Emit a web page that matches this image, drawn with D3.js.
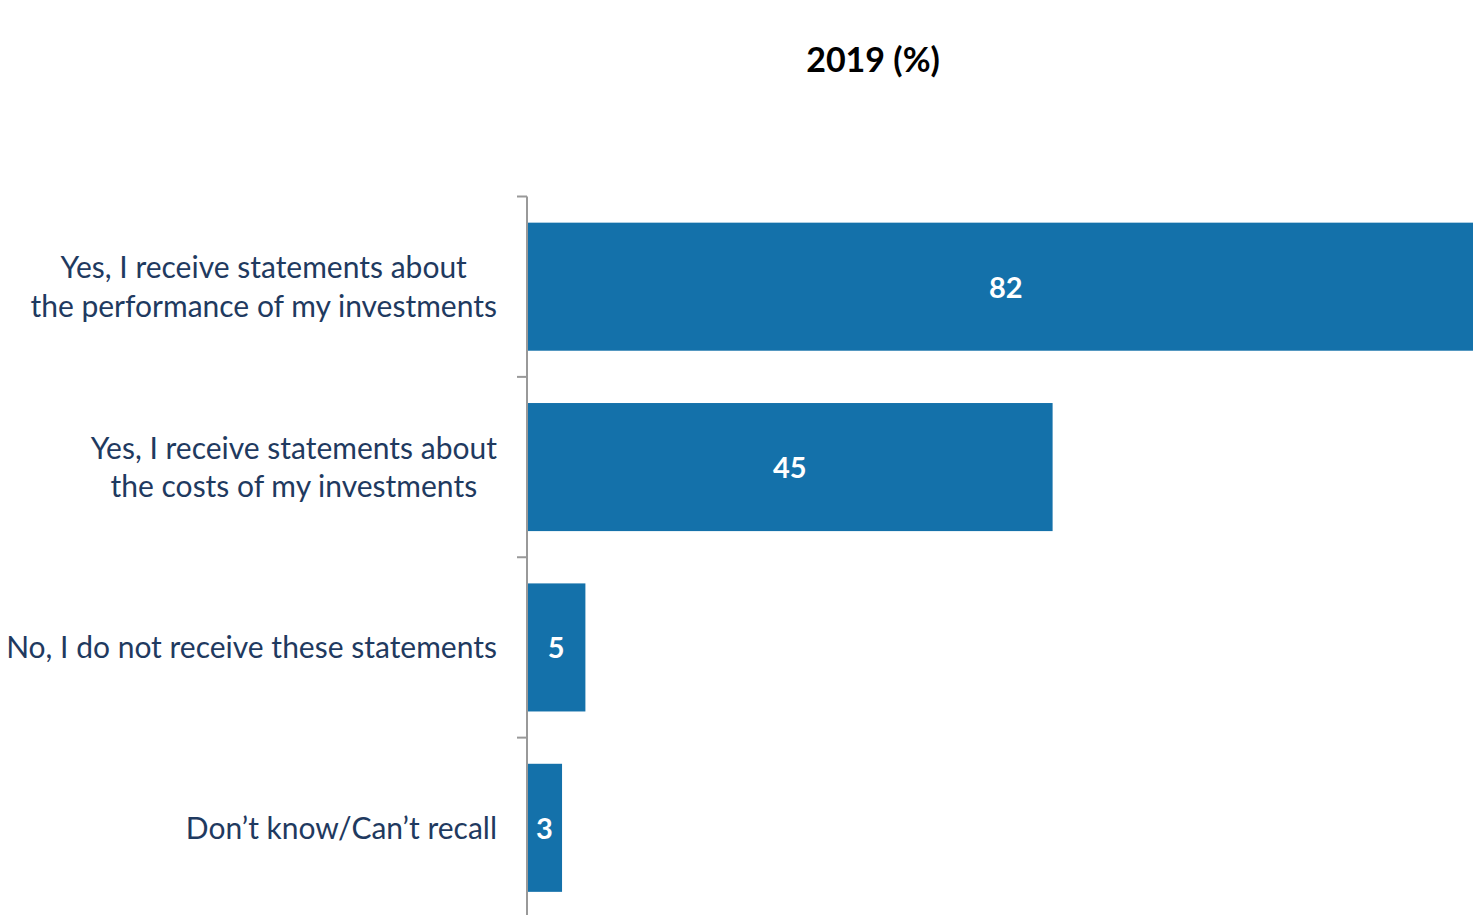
<!DOCTYPE html>
<html>
<head>
<meta charset="utf-8">
<script src="https://cdn.jsdelivr.net/npm/d3@7"></script>
<style>
  body { margin: 0; background: #fff; overflow: hidden; }
  svg { display: block; }
</style>
</head>
<body>
<div id="chart"></div>
<script>
// data
var categories = [
    ["Yes, I receive statements about", "the performance of my investments"],
    ["Yes, I receive statements about", "the costs of my investments"],
    ["No, I do not receive these statements"],
    ["Don\u2019t know/Can\u2019t recall"]
]
var values = [82, 45, 5, 3]
var title = "2019 (%)"

const w = 1473, h = 915
var labelFont = "Lato, 'Open Sans', sans-serif"

var svg = d3.select("#chart")
    .append("svg")
    .attr("width", w)
    .attr("height", h)

var x = d3.scaleLinear()
    .domain([0, 100])
    .range([527, 527 + 1168])

var y = d3.scaleBand()
    .domain(d3.range(categories.length))
    .range([196.5, 918])
    .paddingInner(0.29)
    .paddingOuter(0.145)

// title
svg.append("text")
    .attr("x", 873)
    .attr("y", 72)
    .attr("text-anchor", "middle")
    .attr("font-family", labelFont)
    .attr("font-weight", "bold")
    .attr("font-size", 34)
    .attr("fill", "#000")
    .text(title)

// bars
svg.selectAll("rect.bar")
    .data(values)
    .enter()
    .append("rect")
    .attr("class", "bar")
    .attr("x", x(0))
    .attr("y", (d, i) => y(i))
    .attr("width", d => x(d) - x(0))
    .attr("height", y.bandwidth())
    .attr("fill", "#1471aa")

// value labels, centred on the (unclipped) bar
svg.selectAll("text.val")
    .data(values)
    .enter()
    .append("text")
    .attr("class", "val")
    .attr("x", d => (x(d) + x(0)) / 2)
    .attr("y", (d, i) => y(i) + y.bandwidth() / 2)
    .attr("dy", "0.38em")
    .attr("text-anchor", "middle")
    .attr("font-family", labelFont)
    .attr("font-weight", "bold")
    .attr("font-size", 29)
    .attr("fill", "#fff")
    .text(d => d)

// axis line with ticks between categories
var axisG = svg.append("g")
axisG.append("line")
    .attr("x1", x(0)).attr("x2", x(0))
    .attr("y1", 196.5).attr("y2", h)
    .attr("stroke", "#999").attr("stroke-width", 2)
var tickYs = d3.range(categories.length + 1).map(i => 196.5 + i * (918 - 196.5) / categories.length)
axisG.selectAll("line.tick")
    .data(tickYs)
    .enter()
    .append("line")
    .attr("class", "tick")
    .attr("x1", x(0) - 10).attr("x2", x(0))
    .attr("y1", d => d).attr("y2", d => d)
    .attr("stroke", "#999").attr("stroke-width", 2)

// category labels: lines centred on each other, block right-aligned at 497
var lineH = 38.5
categories.forEach(function(lines, i) {
    var cy = y(i) + y.bandwidth() / 2
    var g = svg.append("g")
    var texts = lines.map(function(l, j) {
        return g.append("text")
            .attr("y", cy + (j - (lines.length - 1) / 2) * lineH)
            .attr("dy", "0.36em")
            .attr("text-anchor", "middle")
            .attr("font-family", labelFont)
            .attr("font-size", 30)
            .attr("fill", "#1f3a60")
            .text(l)
    })
    var maxW = d3.max(texts, t => t.node().getComputedTextLength())
    texts.forEach(t => t.attr("x", 497 - maxW / 2))
})
</script>
</body>
</html>
